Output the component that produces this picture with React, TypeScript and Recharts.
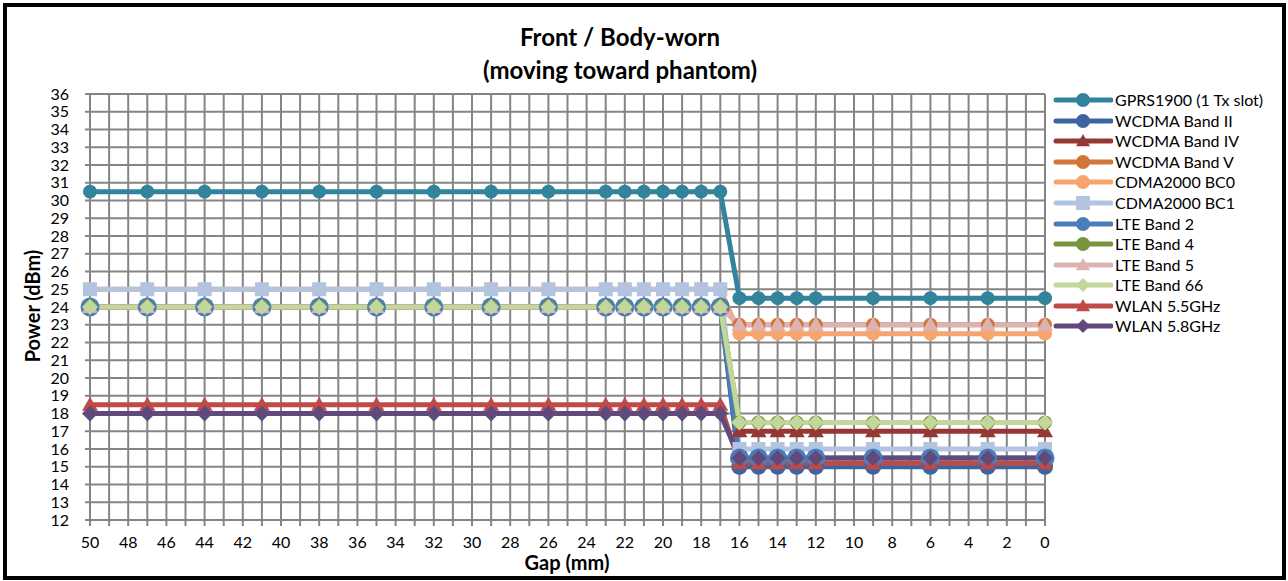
import React from "react";
import { LineChart, Line, XAxis, YAxis, CartesianGrid } from "recharts";

// gap positions (mm) measured, 50 -> 0
const gaps = [50, 47, 44, 41, 38, 35, 32, 29, 26, 23, 22, 21, 20, 19, 18, 17, 16, 15, 14, 13, 12, 9, 6, 3, 0];

// power per series (dBm), same order as gaps
const gprs1900 = [30.5, 30.5, 30.5, 30.5, 30.5, 30.5, 30.5, 30.5, 30.5, 30.5, 30.5, 30.5, 30.5, 30.5, 30.5, 30.5, 24.5, 24.5, 24.5, 24.5, 24.5, 24.5, 24.5, 24.5, 24.5];
const wcdmaB2 = [24, 24, 24, 24, 24, 24, 24, 24, 24, 24, 24, 24, 24, 24, 24, 24, 15, 15, 15, 15, 15, 15, 15, 15, 15];
const wcdmaB4 = [24, 24, 24, 24, 24, 24, 24, 24, 24, 24, 24, 24, 24, 24, 24, 24, 17, 17, 17, 17, 17, 17, 17, 17, 17];
const wcdmaB5 = [24, 24, 24, 24, 24, 24, 24, 24, 24, 24, 24, 24, 24, 24, 24, 24, 23, 23, 23, 23, 23, 23, 23, 23, 23];
const cdmaBc0 = [25, 25, 25, 25, 25, 25, 25, 25, 25, 25, 25, 25, 25, 25, 25, 25, 22.5, 22.5, 22.5, 22.5, 22.5, 22.5, 22.5, 22.5, 22.5];
const cdmaBc1 = [25, 25, 25, 25, 25, 25, 25, 25, 25, 25, 25, 25, 25, 25, 25, 25, 16, 16, 16, 16, 16, 16, 16, 16, 16];
const lteB2 = [24, 24, 24, 24, 24, 24, 24, 24, 24, 24, 24, 24, 24, 24, 24, 24, 15.5, 15.5, 15.5, 15.5, 15.5, 15.5, 15.5, 15.5, 15.5];
const lteB4 = [24, 24, 24, 24, 24, 24, 24, 24, 24, 24, 24, 24, 24, 24, 24, 24, 17.5, 17.5, 17.5, 17.5, 17.5, 17.5, 17.5, 17.5, 17.5];
const lteB5 = [24, 24, 24, 24, 24, 24, 24, 24, 24, 24, 24, 24, 24, 24, 24, 24, 23, 23, 23, 23, 23, 23, 23, 23, 23];
const lteB66 = [24, 24, 24, 24, 24, 24, 24, 24, 24, 24, 24, 24, 24, 24, 24, 24, 17.5, 17.5, 17.5, 17.5, 17.5, 17.5, 17.5, 17.5, 17.5];
const wlan55 = [18.5, 18.5, 18.5, 18.5, 18.5, 18.5, 18.5, 18.5, 18.5, 18.5, 18.5, 18.5, 18.5, 18.5, 18.5, 18.5, 15.2, 15.2, 15.2, 15.2, 15.2, 15.2, 15.2, 15.2, 15.2];
const wlan58 = [18, 18, 18, 18, 18, 18, 18, 18, 18, 18, 18, 18, 18, 18, 18, 18, 15.5, 15.5, 15.5, 15.5, 15.5, 15.5, 15.5, 15.5, 15.5];

const xTicks = Array.from({ length: 51 }, (_, i) => i);
const yTicks = Array.from({ length: 25 }, (_, i) => 12 + i);

type Shape = "circle" | "triangle" | "square" | "diamond";

const series: { key: string; name: string; values: number[]; color: string; shape: Shape; size: number }[] = [
  { key: "gprs", name: "GPRS1900 (1 Tx slot)", values: gprs1900, color: "#31849B", shape: "circle", size: 7 },
  { key: "w2", name: "WCDMA Band II", values: wcdmaB2, color: "#3C64A0", shape: "circle", size: 8 },
  { key: "w4", name: "WCDMA Band IV", values: wcdmaB4, color: "#953735", shape: "triangle", size: 8 },
  { key: "w5", name: "WCDMA Band V", values: wcdmaB5, color: "#D0763A", shape: "circle", size: 7 },
  { key: "c0", name: "CDMA2000 BC0", values: cdmaBc0, color: "#F8A46E", shape: "circle", size: 7 },
  { key: "c1", name: "CDMA2000 BC1", values: cdmaBc1, color: "#B2C4E0", shape: "square", size: 7 },
  { key: "l2", name: "LTE Band 2", values: lteB2, color: "#4A7EBB", shape: "circle", size: 9.5 },
  { key: "l4", name: "LTE Band 4", values: lteB4, color: "#77933C", shape: "circle", size: 7 },
  { key: "l5", name: "LTE Band 5", values: lteB5, color: "#DDB3B2", shape: "triangle", size: 8 },
  { key: "l66", name: "LTE Band 66", values: lteB66, color: "#C3D69B", shape: "diamond", size: 8 },
  { key: "wl55", name: "WLAN 5.5GHz", values: wlan55, color: "#BE4B48", shape: "triangle", size: 8 },
  { key: "wl58", name: "WLAN 5.8GHz", values: wlan58, color: "#604A7B", shape: "diamond", size: 8 },
];

const rows = gaps.map((gap, i) => {
  const row: Record<string, number> = { gap };
  series.forEach((s) => {
    row[s.key] = s.values[i];
  });
  return row;
});

const FONT = "Lato, 'Open Sans', sans-serif";
const GRID = "#858585";

const Marker = ({ cx, cy, shape, size, color }: { cx: number; cy: number; shape: Shape; size: number; color: string }) => {
  if (cx == null || cy == null) return null;
  const r = size;
  if (shape === "circle") return <circle cx={cx} cy={cy} r={r} fill={color} />;
  if (shape === "square") return <rect x={cx - r} y={cy - r} width={r * 2} height={r * 2} fill={color} />;
  if (shape === "diamond")
    return <polygon points={`${cx},${cy - r} ${cx + r},${cy} ${cx},${cy + r} ${cx - r},${cy}`} fill={color} />;
  return <polygon points={`${cx},${cy - r} ${cx + r},${cy + r * 0.75} ${cx - r},${cy + r * 0.75}`} fill={color} />;
};

// Excel-style legend: line sample with marker, then name
const LegendBox = () => (
  <div style={{ position: "absolute", left: 1053, top: 90, fontFamily: FONT, fontSize: 16, color: "#000" }}>
    {series.map((s) => (
      <div key={s.key} style={{ display: "flex", alignItems: "center", height: 20.55 }}>
        <svg width={60} height={20} style={{ flex: "none" }}>
          <line x1={3} y1={10} x2={58} y2={10} stroke={s.color} strokeWidth={5} strokeLinecap="round" />
          <Marker cx={30} cy={10} shape={s.shape} size={Math.min(s.size, 7)} color={s.color} />
        </svg>
        <span style={{ marginLeft: 2, whiteSpace: "nowrap", lineHeight: "20px" }}>{s.name}</span>
      </div>
    ))}
  </div>
);

const App = () => {
  return (
    <div style={{ position: "absolute", left: 0, top: 0, width: 1288, height: 581, background: "#fff" }}>
      <div
        style={{
          position: "absolute",
          left: 3,
          top: 3,
          width: 1283,
          height: 577,
          border: "4px solid #000",
          boxSizing: "border-box",
        }}
      />
      <div
        style={{
          position: "absolute",
          left: 320,
          width: 600,
          top: 20,
          textAlign: "center",
          fontFamily: FONT,
          fontWeight: 700,
          fontSize: 24,
          lineHeight: "33px",
        }}
      >
        Front / Body-worn
        <br />
        (moving toward phantom)
      </div>
      <div
        style={{
          position: "absolute",
          left: 467,
          width: 200,
          top: 549,
          height: 26,
          lineHeight: "26px",
          textAlign: "center",
          fontFamily: FONT,
          fontWeight: 700,
          fontSize: 20,
        }}
      >
        Gap (mm)
      </div>
      <div
        style={{
          position: "absolute",
          left: 32 - 100,
          width: 200,
          top: 306 - 13,
          height: 26,
          lineHeight: "26px",
          textAlign: "center",
          fontFamily: FONT,
          fontWeight: 700,
          fontSize: 20,
          transform: "rotate(-90deg)",
        }}
      >
        Power (dBm)
      </div>
      <LineChart
        width={1288}
        height={581}
        data={rows}
        margin={{ top: 94, right: 243, bottom: 0, left: 0 }}
        style={{ position: "absolute", left: 0, top: 0 }}
      >
        <CartesianGrid stroke={GRID} strokeWidth={2} />
        <XAxis
          dataKey="gap"
          type="number"
          domain={[0, 50]}
          reversed
          ticks={xTicks}
          interval={0}
          height={61}
          tickSize={6}
          tickMargin={11}
          tickFormatter={(v: number) => (v % 2 === 0 ? String(v) : "")}
          tick={{ fill: "#000", fontSize: 16, fontFamily: FONT }}
          axisLine={{ stroke: GRID, strokeWidth: 2 }}
          tickLine={{ stroke: GRID, strokeWidth: 2 }}
        />
        <YAxis
          type="number"
          domain={[12, 36]}
          ticks={yTicks}
          interval={0}
          width={90}
          tickSize={5}
          tickMargin={16}
          tick={{ fill: "#000", fontSize: 16, fontFamily: FONT }}
          axisLine={{ stroke: GRID, strokeWidth: 2 }}
          tickLine={{ stroke: GRID, strokeWidth: 2 }}
        />
        {series.map((s) => (
          <Line
            key={s.key}
            dataKey={s.key}
            name={s.name}
            type="linear"
            stroke={s.color}
            strokeWidth={5}
            isAnimationActive={false}
            activeDot={false}
            dot={(p: any) => (
              <Marker key={`${s.key}-${p.index}`} cx={p.cx} cy={p.cy} shape={s.shape} size={s.size} color={s.color} />
            )}
          />
        ))}
      </LineChart>
      <LegendBox />
    </div>
  );
};

export default App;
